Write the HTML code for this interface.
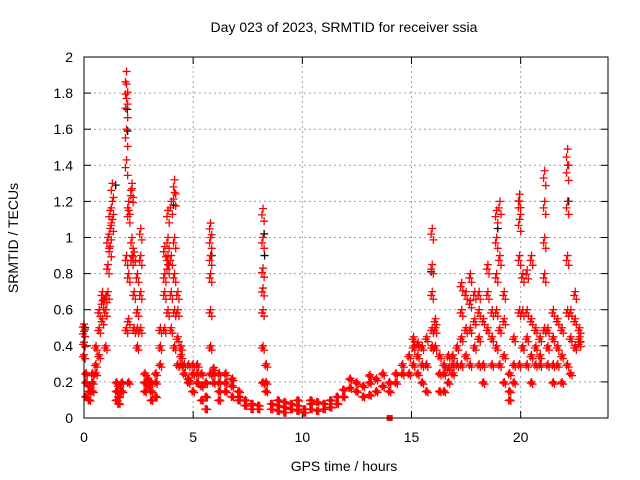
<!DOCTYPE html>
<html><head><meta charset="utf-8"><style>
body{margin:0;background:#fff}
svg{display:block;font-family:"Liberation Sans",sans-serif}
</style></head><body>
<svg id="chart" width="640" height="480">
<rect width="640" height="480" fill="#fff"/>
<text x="344" y="32" text-anchor="middle" font-size="14">Day 023 of 2023, SRMTID for receiver ssia</text>
<text x="0" y="0" transform="translate(18,238) rotate(-90)" text-anchor="middle" font-size="14">SRMTID / TECUs</text>
<text x="344" y="471" text-anchor="middle" font-size="14">GPS time / hours</text>
<g id="grid"></g><g id="marks"></g>
<rect x="84" y="57" width="524" height="361" fill="none" stroke="#000" stroke-width="1"/>
</svg>
<script>
const xTicks=[0,5,10,15,20];
const yTicks=[0,0.2,0.4,0.6,0.8,1,1.2,1.4,1.6,1.8,2];
const yTickLabels=["0","0.2","0.4","0.6","0.8","1","1.2","1.4","1.6","1.8","2"];
const colHours=[0.0,0.1,0.25,0.4,0.55,0.7,0.85,1.0,1.1,1.2,1.3,1.5,1.6,1.75,1.95,2.05,2.2,2.3,2.45,2.6,2.8,2.95,3.1,3.3,3.5,3.7,3.85,4.0,4.15,4.3,4.45,4.6,4.8,5.0,5.2,5.4,5.6,5.8,5.95,6.2,6.5,6.8,7.1,7.4,7.7,8.0,8.2,8.35,8.6,8.9,9.2,9.5,9.8,10.1,10.4,10.7,11.0,11.3,11.6,11.9,12.2,12.5,12.8,13.1,13.4,13.7,14.0,14.3,14.6,14.9,15.1,15.3,15.5,15.7,15.95,16.1,16.3,16.5,16.7,16.9,17.1,17.3,17.5,17.7,17.9,18.1,18.3,18.5,18.7,18.9,19.05,19.25,19.5,19.7,19.95,20.1,20.3,20.5,20.7,20.9,21.1,21.25,21.5,21.7,21.9,22.15,22.3,22.5,22.7];
const colValues=[[0.35,0.42,0.48,0.52],[0.12,0.2,0.25],[0.1,0.15,0.18],[0.15,0.2,0.25],[0.25,0.3,0.4],[0.35,0.5,0.6],[0.55,0.65,0.7],[0.4,0.6,0.68],[0.7,0.85,1.0],[0.95,1.05,1.15],[1.1,1.2,1.3],[0.1,0.15,0.2],[0.08,0.12,0.18],[0.15,0.2],[0.5,0.9,1.43,1.6,1.77,1.85,1.92],[0.2,0.55,0.8,1.15,1.2],[0.9,1.0,1.27,1.3],[0.5,0.7,0.92],[0.4,0.5,0.6,0.8],[0.5,0.7,0.9,1.05],[0.15,0.2,0.25],[0.18,0.22],[0.1,0.15,0.2],[0.12,0.2,0.25],[0.3,0.4,0.5],[0.5,0.7,0.8,0.95],[0.6,0.85,0.9,1.0,1.15],[0.5,0.7,0.9,1.2],[0.4,0.6,0.8,1.0,1.25,1.32],[0.3,0.45,0.6,0.7],[0.3,0.35,0.4],[0.25,0.3],[0.2,0.22,0.3],[0.15,0.25,0.3],[0.2,0.25,0.3],[0.1,0.18,0.25],[0.05,0.12,0.2],[0.25,0.4,0.6,0.8,0.9,1.0,1.08],[0.2,0.25,0.28],[0.1,0.15,0.2,0.25],[0.15,0.2,0.25],[0.12,0.18,0.22],[0.1,0.12,0.15],[0.07,0.1],[0.05,0.08],[0.05,0.07],[0.2,0.4,0.6,0.72,0.83,1.0,1.16],[0.15,0.2,0.3],[0.05,0.08],[0.04,0.07,0.1],[0.03,0.06,0.09],[0.05,0.08],[0.04,0.07,0.1],[0.03,0.05],[0.05,0.08,0.1],[0.04,0.09],[0.05,0.08],[0.06,0.1],[0.08,0.12],[0.12,0.16],[0.17,0.22],[0.15,0.2],[0.12,0.18],[0.13,0.2,0.24],[0.15,0.22],[0.18,0.25],[0.15,0.2],[0.2,0.25],[0.25,0.3],[0.25,0.35],[0.3,0.4,0.45],[0.25,0.35,0.42],[0.2,0.3,0.4],[0.15,0.3,0.45],[0.4,0.5,0.7,0.85,1.05],[0.4,0.5,0.55],[0.15,0.25,0.35],[0.15,0.25,0.3],[0.2,0.28,0.35],[0.25,0.3,0.35],[0.3,0.4],[0.3,0.45,0.6,0.75],[0.35,0.5,0.7],[0.3,0.5,0.65,0.8],[0.4,0.55,0.7],[0.3,0.45,0.6,0.7],[0.2,0.3,0.55],[0.5,0.7,0.85],[0.3,0.45,0.6],[0.4,0.6,0.8,1.0,1.15],[0.3,0.5,0.9,1.2],[0.2,0.35,0.55,0.7],[0.1,0.15,0.25],[0.2,0.3,0.45],[0.3,0.6,0.9,1.1,1.2,1.24],[0.4,0.6,0.8],[0.3,0.45,0.6,0.82],[0.2,0.35,0.55,0.9],[0.3,0.4,0.5],[0.3,0.35,0.45],[0.5,0.8,1.0,1.2,1.37],[0.3,0.4,0.5],[0.2,0.3,0.45,0.6],[0.3,0.4,0.55],[0.2,0.35,0.5],[0.3,0.6,0.9,1.2,1.4,1.49],[0.25,0.45,0.6],[0.4,0.55,0.7],[0.42,0.45,0.5]];
const blackHours=[0.05,1.45,1.98,2.0,4.1,5.85,8.25,8.27,15.9,18.95,22.2];
const blackValues=[0.5,1.29,1.71,1.59,1.18,0.9,1.02,0.9,0.81,1.05,1.2];
const gapHours=[14.0];
const gapValues=[0];

const NS='http://www.w3.org/2000/svg';
const X0=84,X1=608,Y0=418,Y1=57,XMAX=24,YMAX=2;
const xs=h=>X0+(X1-X0)*h/XMAX;
const ys=v=>Y0-(Y0-Y1)*v/YMAX;
const grid=document.getElementById('grid'),marks=document.getElementById('marks');
function mk(tag,attrs,parent){const e=document.createElementNS(NS,tag);for(const k in attrs)e.setAttribute(k,attrs[k]);parent.appendChild(e);return e;}
yTicks.forEach((v,i)=>{
  const y=ys(v);
  if(i>0&&i<yTicks.length-1){const g=mk('line',{x1:X0,x2:X1,y1:y,y2:y,stroke:'#a0a0a0','stroke-dasharray':'2,3'},grid);
  
  }
  const t=mk('line',{x1:X0,x2:X0+7,y1:y,y2:y,stroke:'#000'},grid);
  
  
  mk('line',{x1:X1,x2:X1-7,y1:y,y2:y,stroke:'#000'},grid);
  const l=mk('text',{x:X0-11,y:y+5,'text-anchor':'end','font-size':'14'},grid);l.textContent=yTickLabels[i];
  
  
});
xTicks.forEach(h=>{
  const x=xs(h);
  if(h>0){const g=mk('line',{x1:x,x2:x,y1:Y0,y2:Y1,stroke:'#a0a0a0','stroke-dasharray':'2,3'},grid);
  
  }
  const t=mk('line',{x1:x,x2:x,y1:Y0,y2:Y0-7,stroke:'#000'},grid);
  
  
  mk('line',{x1:x,x2:x,y1:Y1,y2:Y1+7,stroke:'#000'},grid);
  const l=mk('text',{x:x,y:Y0+24,'text-anchor':'middle','font-size':'14'},grid);l.textContent=String(h);
  
  
});
function plus(h,v,color,name){
  const x=xs(h),y=ys(v);
  const p=mk('path',{d:`M${x-4},${y}H${x+4}M${x},${y-4}V${y+4}`,stroke:color,'stroke-width':'1.3',fill:'none'},marks);
  
  
}
blackHours.forEach((h,i)=>plus(h,blackValues[i],'#000','black-point'));
colHours.forEach((h,i)=>{
  colValues[i].forEach(v=>{
    plus(h,v,'#f00','red-point');
    plus(h+0.05,v*0.94,'#f00','red-point');
    plus(h-0.05,v*0.97,'#f00','red-point');
  });
});
gapHours.forEach((h,i)=>{
  const r=mk('rect',{x:xs(h)-3,y:ys(gapValues[i])-3,width:6,height:6,fill:'#f00'},marks);
  
  
});
</script>
</body></html>
